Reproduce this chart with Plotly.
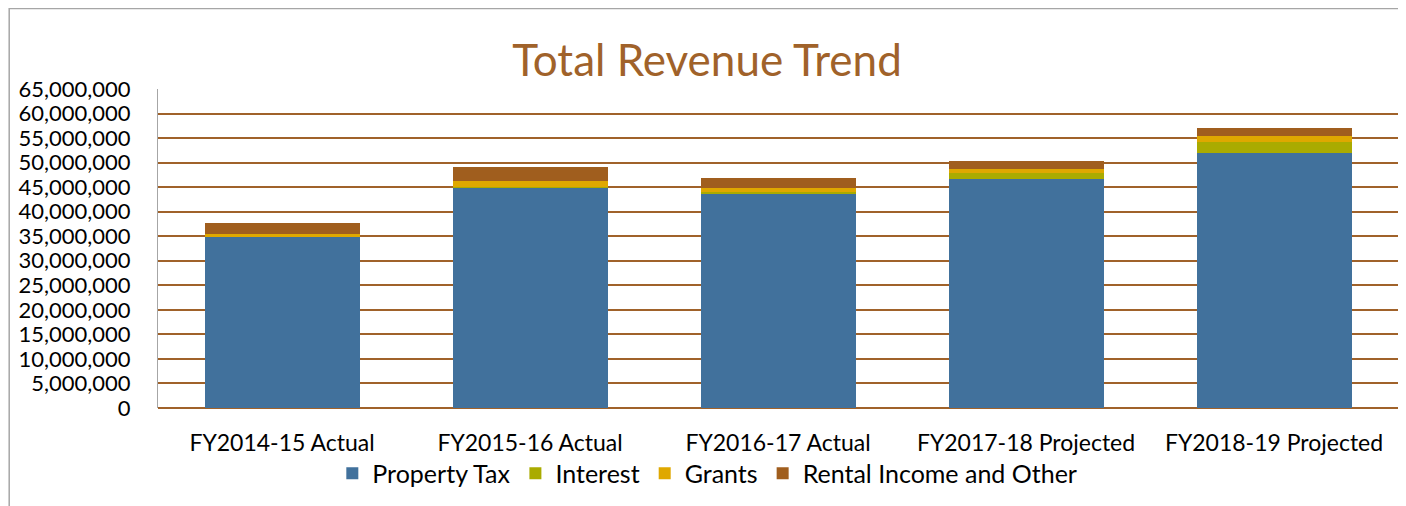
import plotly.graph_objects as go

categories = ["FY2014-15 Actual", "FY2015-16 Actual", "FY2016-17 Actual",
              "FY2017-18 Projected", "FY2018-19 Projected"]

property_tax = [34900000, 44900000, 43700000, 46700000, 52000000]
interest = [100000, 200000, 350000, 1200000, 2300000]
grants = [400000, 1150000, 800000, 800000, 1100000]
rental_other = [2300000, 2850000, 2100000, 1700000, 1600000]

tick_vals = list(range(0, 65000001, 5000000))
tick_text = ["0"] + [f"{v:,}" for v in tick_vals[1:]]

font_family = "Lato, Noto Sans, sans-serif"

fig = go.Figure()
series = [
    ("Property Tax", property_tax, "#41719C"),
    ("Interest", interest, "#AAAB00"),
    ("Grants", grants, "#DFA800"),
    ("Rental Income and Other", rental_other, "#A05E1E"),
]
for name, vals, color in series:
    fig.add_trace(go.Bar(x=categories, y=vals, name=name, marker_color=color,
                         marker_line_width=0))

# page body adds 8px offset, so the figure is sized to the visible area
fig.update_layout(
    barmode="stack",
    bargap=0.375,
    width=1398, height=498,
    margin=dict(l=150, r=8, t=81, b=98),
    plot_bgcolor="white",
    paper_bgcolor="white",
    font=dict(family=font_family, size=23, color="black"),
    title=dict(text="Total Revenue Trend", x=0.5, xanchor="center",
               y=0.895, yanchor="middle",
               font=dict(family=font_family, size=44, color="#A0622A")),
    legend=dict(orientation="h", x=0.443, xanchor="center",
                y=-0.205, yanchor="middle", bgcolor="rgba(0,0,0,0)",
                font=dict(size=25), traceorder="normal", itemwidth=30),
    showlegend=True,
    shapes=[dict(type="rect", xref="paper", yref="paper",
                 x0=-0.12, x1=1.0016, y0=-0.35, y1=1.252,
                 line=dict(color="#A6A6A6", width=1.5))],
)
fig.update_yaxes(range=[0, 65000000], tickvals=tick_vals, ticktext=tick_text,
                 showgrid=True, gridcolor="#A0622A", gridwidth=2,
                 showline=True, linecolor="#A6A6A6", linewidth=1,
                 zeroline=True, zerolinecolor="#A0622A", zerolinewidth=2,
                 ticks="", ticklabelstandoff=22, tickfont=dict(size=22))
fig.update_xaxes(showline=False, ticks="", tickfont=dict(size=23),
                 ticklabelstandoff=19)

fig.write_html("out.html")
